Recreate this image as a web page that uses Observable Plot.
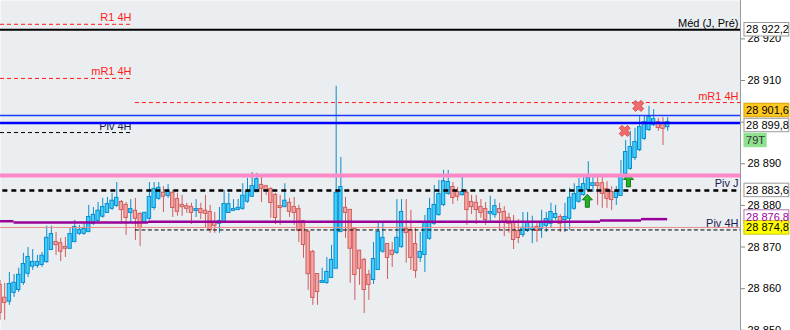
<!DOCTYPE html>
<html><head><meta charset="utf-8">
<script src="https://cdn.jsdelivr.net/npm/d3@7"></script>
<script src="https://cdn.jsdelivr.net/npm/@observablehq/plot@0.6"></script>
<style>
html,body{margin:0;padding:0;background:#fff;}
#chart svg{display:block;}
</style>
</head><body><div id="chart"></div>
<script>
// ---- candle data ----
const openP = [
28860.8,28857.7,28857.0,28859.1,28859.8,28861.5,28863.7,28865.4,28865.6,28865.8,
28866.5,28869.4,28871.1,28870.8,28869.9,28869.7,28871.3,28873.3,28873.3,28873.7,
28875.7,28876.4,28877.4,28878.3,28879.3,28880.0,28880.7,28880.0,28878.3,28878.6,
28877.8,28876.1,28876.9,28879.5,28881.7,28882.9,28882.4,28882.9,28881.4,28880.0,
28879.7,28879.5,28878.8,28879.0,28878.6,28878.3,28875.9,28875.7,28875.9,28878.3,
28878.8,28879.0,28879.3,28881.0,28882.2,28883.3,28884.8,28884.5,28883.8,28882.4,
28879.7,28879.7,28880.5,28879.5,28879.0,28876.1,28873.5,28868.7,28863.4,28861.5,
28861.5,28862.7,28864.9,28873.7,28879.3,28878.8,28874.2,28869.0,28866.8,28863.2,
28862.2,28864.6,28869.0,28870.6,28869.0,28868.7,28870.1,28874.2,28874.0,28870.6,
28867.5,28868.2,28872.1,28875.7,28877.8,28880.2,28882.9,28884.3,28883.1,28882.6,
28882.9,28880.7,28880.5,28879.5,28879.0,28878.1,28877.8,28879.0,28878.3,28876.9,
28875.7,28873.7,28873.0,28874.0,28874.2,28874.7,28874.5,28875.2,28875.7,28877.1,
28877.1,28876.6,28876.9,28879.3,28881.0,28882.6,28883.8,28884.8,28885.2,28885.2,
28883.8,28883.1,28881.9,28882.4,28887.7,28888.9,28891.5,28893.4,28896.1,28898.2,
28899.4,28899.9,28899.7,28898.9];
const highP = [
28862.0,28861.3,28863.9,28863.4,28864.9,28868.5,28869.9,28869.4,28868.0,28868.7,
28875.0,28875.0,28873.5,28872.1,28872.3,28874.7,28876.4,28875.2,28875.9,28880.0,
28879.5,28880.7,28881.7,28881.9,28882.9,28885.5,28881.2,28880.7,28881.4,28881.7,
28878.3,28878.3,28885.5,28885.5,28885.5,28884.5,28885.0,28883.6,28882.9,28882.4,
28880.5,28880.5,28881.4,28880.5,28882.4,28880.0,28878.3,28879.5,28883.6,28882.9,
28881.4,28881.4,28885.2,28886.5,28887.9,28887.7,28886.7,28884.8,28884.3,28882.9,
28882.4,28885.2,28881.7,28881.9,28880.0,28876.4,28874.0,28869.2,28863.6,28864.9,
28867.5,28870.4,28908.6,28891.5,28881.9,28878.8,28874.5,28869.2,28867.3,28864.4,
28871.1,28875.9,28875.9,28870.8,28871.1,28881.4,28881.4,28881.4,28878.8,28874.5,
28873.5,28877.6,28881.7,28884.8,28886.0,28888.4,28888.4,28885.5,28884.3,28887.4,
28883.6,28882.4,28882.4,28881.4,28880.7,28882.2,28881.4,28880.5,28879.7,28878.1,
28877.6,28876.6,28878.3,28878.3,28877.4,28875.9,28878.8,28878.3,28880.5,28880.0,
28877.8,28880.5,28884.1,28885.2,28886.5,28887.2,28890.5,28887.2,28886.7,28886.7,
28885.7,28884.5,28884.5,28890.8,28895.6,28897.8,28898.5,28901.4,28901.6,28903.8,
28903.0,28900.9,28901.1,28901.1];
const lowP = [
28852.4,28852.4,28856.0,28857.9,28859.1,28860.8,28862.7,28864.4,28864.9,28865.1,
28866.1,28869.2,28868.0,28866.5,28867.5,28869.4,28871.1,28872.8,28872.8,28873.5,
28875.2,28875.9,28876.9,28878.1,28878.8,28879.5,28875.9,28872.8,28875.7,28871.6,
28870.1,28875.7,28876.4,28878.8,28881.2,28878.3,28881.7,28877.1,28877.4,28877.4,
28878.1,28875.4,28877.1,28876.6,28874.5,28873.3,28873.3,28873.3,28875.7,28878.1,
28878.8,28878.8,28878.8,28880.5,28881.9,28883.1,28880.7,28882.4,28876.9,28875.4,
28875.2,28879.5,28877.1,28875.2,28871.1,28867.3,28859.6,28856.0,28856.0,28861.3,
28861.0,28862.5,28864.9,28873.7,28872.1,28861.3,28857.2,28860.8,28854.0,28857.2,
28861.0,28864.4,28868.5,28862.2,28865.1,28868.2,28869.7,28866.1,28864.4,28862.5,
28866.3,28863.9,28871.6,28875.2,28877.4,28879.7,28882.4,28880.2,28881.0,28882.2,
28875.2,28877.8,28875.4,28876.9,28875.2,28875.9,28876.9,28874.0,28872.5,28873.3,
28869.4,28870.8,28872.3,28873.5,28870.8,28871.1,28872.1,28873.5,28874.5,28876.4,
28873.5,28873.5,28874.0,28878.8,28880.5,28882.2,28883.3,28883.1,28880.0,28879.3,
28879.3,28878.8,28880.0,28882.2,28887.2,28888.4,28890.8,28892.9,28895.6,28897.8,
28898.9,28897.8,28894.4,28897.8];
const closeP = [
28854.3,28856.7,28861.0,28861.3,28863.2,28865.8,28867.5,28866.3,28866.3,28867.8,
28872.1,28873.0,28870.6,28869.0,28869.7,28873.0,28874.7,28874.0,28874.2,28877.1,
28877.6,28878.6,28879.5,28880.2,28881.0,28881.7,28879.0,28877.1,28879.0,28876.9,
28874.7,28878.1,28881.9,28883.8,28884.1,28882.2,28883.1,28879.5,28878.6,28879.7,
28879.3,28878.3,28879.0,28878.3,28878.1,28874.2,28875.2,28876.1,28880.2,28880.2,
28879.0,28879.3,28882.2,28883.1,28884.5,28886.2,28884.1,28883.6,28880.7,28877.1,
28879.5,28881.0,28878.6,28878.3,28874.0,28870.6,28863.6,28857.9,28859.3,28861.7,
28863.9,28866.8,28882.9,28884.3,28878.3,28869.7,28863.4,28864.9,28859.8,28861.0,
28867.0,28873.5,28872.1,28867.5,28868.2,28872.1,28878.3,28873.5,28867.5,28864.4,
28868.7,28875.9,28879.0,28880.0,28882.6,28885.7,28885.5,28881.9,28882.2,28883.1,
28879.0,28879.7,28879.0,28878.3,28876.6,28878.3,28879.7,28878.3,28875.9,28875.7,
28871.8,28872.3,28874.5,28875.7,28874.5,28874.0,28875.9,28876.6,28878.3,28877.8,
28875.7,28877.1,28881.7,28882.6,28884.3,28885.0,28886.5,28885.2,28884.8,28882.9,
28881.7,28881.4,28883.1,28886.7,28892.7,28893.9,28895.1,28898.7,28899.9,28901.1,
28900.6,28898.7,28898.5,28899.9];

// ---- axis ticks ----
const yTicks = [28850, 28860, 28870, 28880, 28890, 28900, 28910, 28920];

// ---- horizontal levels (value, from-candle, to-candle, label) ----
const levelName  = ["R1 4H", "mR1 4H", "Piv 4H", "Méd (J, Pré)", "mR1 4H", "", "", "", "Piv J", "", "Piv 4H"];
const levelValue = [28923.5, 28910.5, 28897.5, 28922.2, 28904.7, 28901.6, 28899.8, 28887.2, 28883.6, 28874.7, 28874.1];
const levelFrom  = [0, 0, 0, 0, 29.0, 0, 0, 0, 0.6, 0, 29.0];
const levelTo    = [28.6, 28.6, 28.6, 158.6, 158.6, 158.6, 158.6, 158.6, 158.6, 158.6, 158.6];

// ---- purple pivot segments ----
const purpleFrom  = [0, 3, 31.8, 128.6, 137.4];
const purpleTo    = [3, 31.8, 128.6, 137.4, 143];
const purpleValue = [28876.2, 28875.9, 28876.1, 28876.4, 28876.7];

// ---- signals ----
const sellIdx = [136.7, 133.8];
const sellVal = [28903.9, 28897.9];
const buyIdx  = [125.8, 134.6];
const buyVal  = [28881.1, 28886.0];

// ---- axis badges ----
const badgeText = ["28 922,2", "28 901,6", "28 899,8", "79T", "28 883,6", "28 876,8", "28 874,8"];
const badgeAt   = [28922.2, 28902.8, 28899.2, 28895.6, 28883.6, 28877.2, 28874.6];

if (![highP, lowP, closeP].every(a => a.length === openP.length)) throw new Error("length mismatch " + [openP.length, highP.length, lowP.length, closeP.length]);

// ---- build tables ----
const candles = openP.map((o, i) => ({i, o, h: highP[i], l: lowP[i], c: closeP[i], up: closeP[i] >= o}));
const X0 = 0.1, X1 = 158.6;
const Y0 = 28849.95, Y1 = 28929.22;

const levelStyle = [
  {stroke: "#ff1a1a", w: 1, dash: "4,3"},
  {stroke: "#ff1a1a", w: 1, dash: "4,3"},
  {stroke: "#000", w: 1, dash: "4,3"},
  {stroke: "#000", w: 2, dash: null},
  {stroke: "#ff1a1a", w: 1, dash: "4,3"},
  {stroke: "#1a3cff", w: 1.3, dash: null},
  {stroke: "#0000ff", w: 2.5, dash: null},
  {stroke: "#ff88c8", w: 4, dash: null},
  {stroke: "#000", w: 2.5, dash: "5,4"},
  {stroke: "#ee8a8a", w: 1, dash: null},
  {stroke: "#000", w: 1, dash: "4,2.5"}
];
const labelColor = ["#ff1a1a", "#ff1a1a", "#1c2050", "#000", "#ff1a1a", "", "", "", "#1c2050", "", "#1c2050"];
const levels = levelValue.map((v, k) => ({v, from: Math.max(X0, levelFrom[k]), to: levelTo[k], name: levelName[k], color: labelColor[k], ...levelStyle[k]}));
const purple = purpleValue.map((v, k) => ({v, from: Math.max(X0, purpleFrom[k]), to: purpleTo[k]}));
const sells = sellIdx.map((i, k) => ({i, v: sellVal[k]}));
const buys = buyIdx.map((i, k) => ({i, v: buyVal[k]}));

const badgeStyle = [
  {fill: "#fff", stroke: "#9a9a9a", color: "#000", w: 10.45},
  {fill: "#ffc81e", stroke: "#d9a000", color: "#000", w: 10.45},
  {fill: "#fff", stroke: "#9a9a9a", color: "#000", w: 10.45},
  {fill: "#8fe08f", stroke: "#8fe08f", color: "#333", w: 5.6},
  {fill: "#fff", stroke: "#9a9a9a", color: "#000", w: 10.45},
  {fill: "#fff", stroke: "#b070b0", color: "#a000a0", w: 10.45},
  {fill: "#ffff00", stroke: "#c8c800", color: "#000", w: 10.45}
];
const badges = badgeText.map((t, k) => ({t, at: badgeAt[k], ...badgeStyle[k]}));

const fr = d3.formatLocale({decimal: ",", thousands: " ", grouping: [3], currency: ["", ""]});
const fmtInt = fr.format(",d");

// custom symbols
const xSymbol = {draw(ctx, size) {
  const r = Math.sqrt(size / Math.PI), s = r * 0.97, t = r * 0.34, q = Math.SQRT1_2;
  const pts = [[t,-s],[t,-t],[s,-t],[s,t],[t,t],[t,s],[-t,s],[-t,t],[-s,t],[-s,-t],[-t,-t],[-t,-s]]
    .map(([x, y]) => [(x - y) * q, (x + y) * q]);
  ctx.moveTo(pts[0][0], pts[0][1]);
  for (let k = 1; k < pts.length; k++) ctx.lineTo(pts[k][0], pts[k][1]);
  ctx.closePath();
}};
const arrowSymbol = {draw(ctx, size) {
  const r = Math.sqrt(size / Math.PI), s = r * 1.08, hw = r * 0.85, hh = r * 0.92, sw = r * 0.34;
  ctx.moveTo(0, -s);
  ctx.lineTo(hw, -s + hh);
  ctx.lineTo(sw, -s + hh);
  ctx.lineTo(sw, s);
  ctx.lineTo(-sw, s);
  ctx.lineTo(-sw, -s + hh);
  ctx.lineTo(-hw, -s + hh);
  ctx.closePath();
}};

const upFill = "#40d0ff", upStroke = "#0a8ccc", dnFill = "#f6a5a5", dnStroke = "#d05c5c";

const chart = Plot.plot({
  width: 790, height: 330,
  marginLeft: 0, marginRight: 50, marginTop: 0, marginBottom: 0,
  x: {domain: [X0, X1], axis: null},
  y: {domain: [Y0, Y1], axis: null},
  color: {type: "identity"},
  style: {fontFamily: "Arial, 'Liberation Sans', sans-serif", fontSize: "11px", background: "#fff", overflow: "visible"},
  marks: [
    Plot.frame({fill: "#eaeef0", stroke: null}),
    // wicks
    Plot.ruleX(candles, {x: "i", y1: "l", y2: "h", stroke: d => d.up ? upStroke : dnStroke, strokeWidth: 1, clip: true}),
    // bodies
    Plot.rect(candles, {x1: d => d.i - 0.36, x2: d => d.i + 0.36, y1: d => Math.min(d.o, d.c), y2: d => Math.max(d.o, d.c),
      fill: d => d.up ? upFill : dnFill, stroke: d => d.up ? upStroke : dnStroke, strokeWidth: 1,
      insetTop: -0.5, insetBottom: -0.5, clip: true}),
    // buy arrows
    Plot.dot(buys, {x: "i", y: "v", r: 6, symbol: arrowSymbol, fill: "#22b422", stroke: "#0e5e0e", strokeWidth: 0.8}),
    // labels on levels
    Plot.text(levels.filter(d => d.name), {x: "to", y: "v", text: "name", textAnchor: "end", dx: -2, dy: -6.5, fill: "color", fontSize: 11}),
    // level lines
    ...levels.map(d => Plot.ruleY([d], {y: "v", x1: "from", x2: "to", stroke: d.stroke, strokeWidth: d.w, strokeDasharray: d.dash || undefined})),
    // purple pivot
    Plot.ruleY(purple, {y: "v", x1: "from", x2: "to", stroke: "#990099", strokeWidth: 2.5}),
    // sell crosses
    Plot.dot(sells, {x: "i", y: "v", r: 6, symbol: xSymbol, fill: "#f26a6a", stroke: "#cc4444", strokeWidth: 0.8}),
    // right axis
    Plot.ruleX([X1], {stroke: "#9a9a9a", strokeWidth: 1}),
    Plot.axisY(yTicks, {anchor: "right", tickSize: 4, tickPadding: 3, tickFormat: fmtInt, fontSize: 11, stroke: "#888", fill: "#000", label: null}),
    // badges
    Plot.rect(badges, {x1: () => X1 + 0.85, x2: d => X1 + d.w, y1: d => d.at - 1.62, y2: d => d.at + 1.62, fill: "fill", stroke: "stroke", strokeWidth: 1}),
    Plot.text(badges, {x: () => X1 + 1.2, y: "at", text: "t", textAnchor: "start", fill: "color", fontSize: 11})
  ]
});
document.getElementById("chart").appendChild(chart);
</script>
</body></html>
